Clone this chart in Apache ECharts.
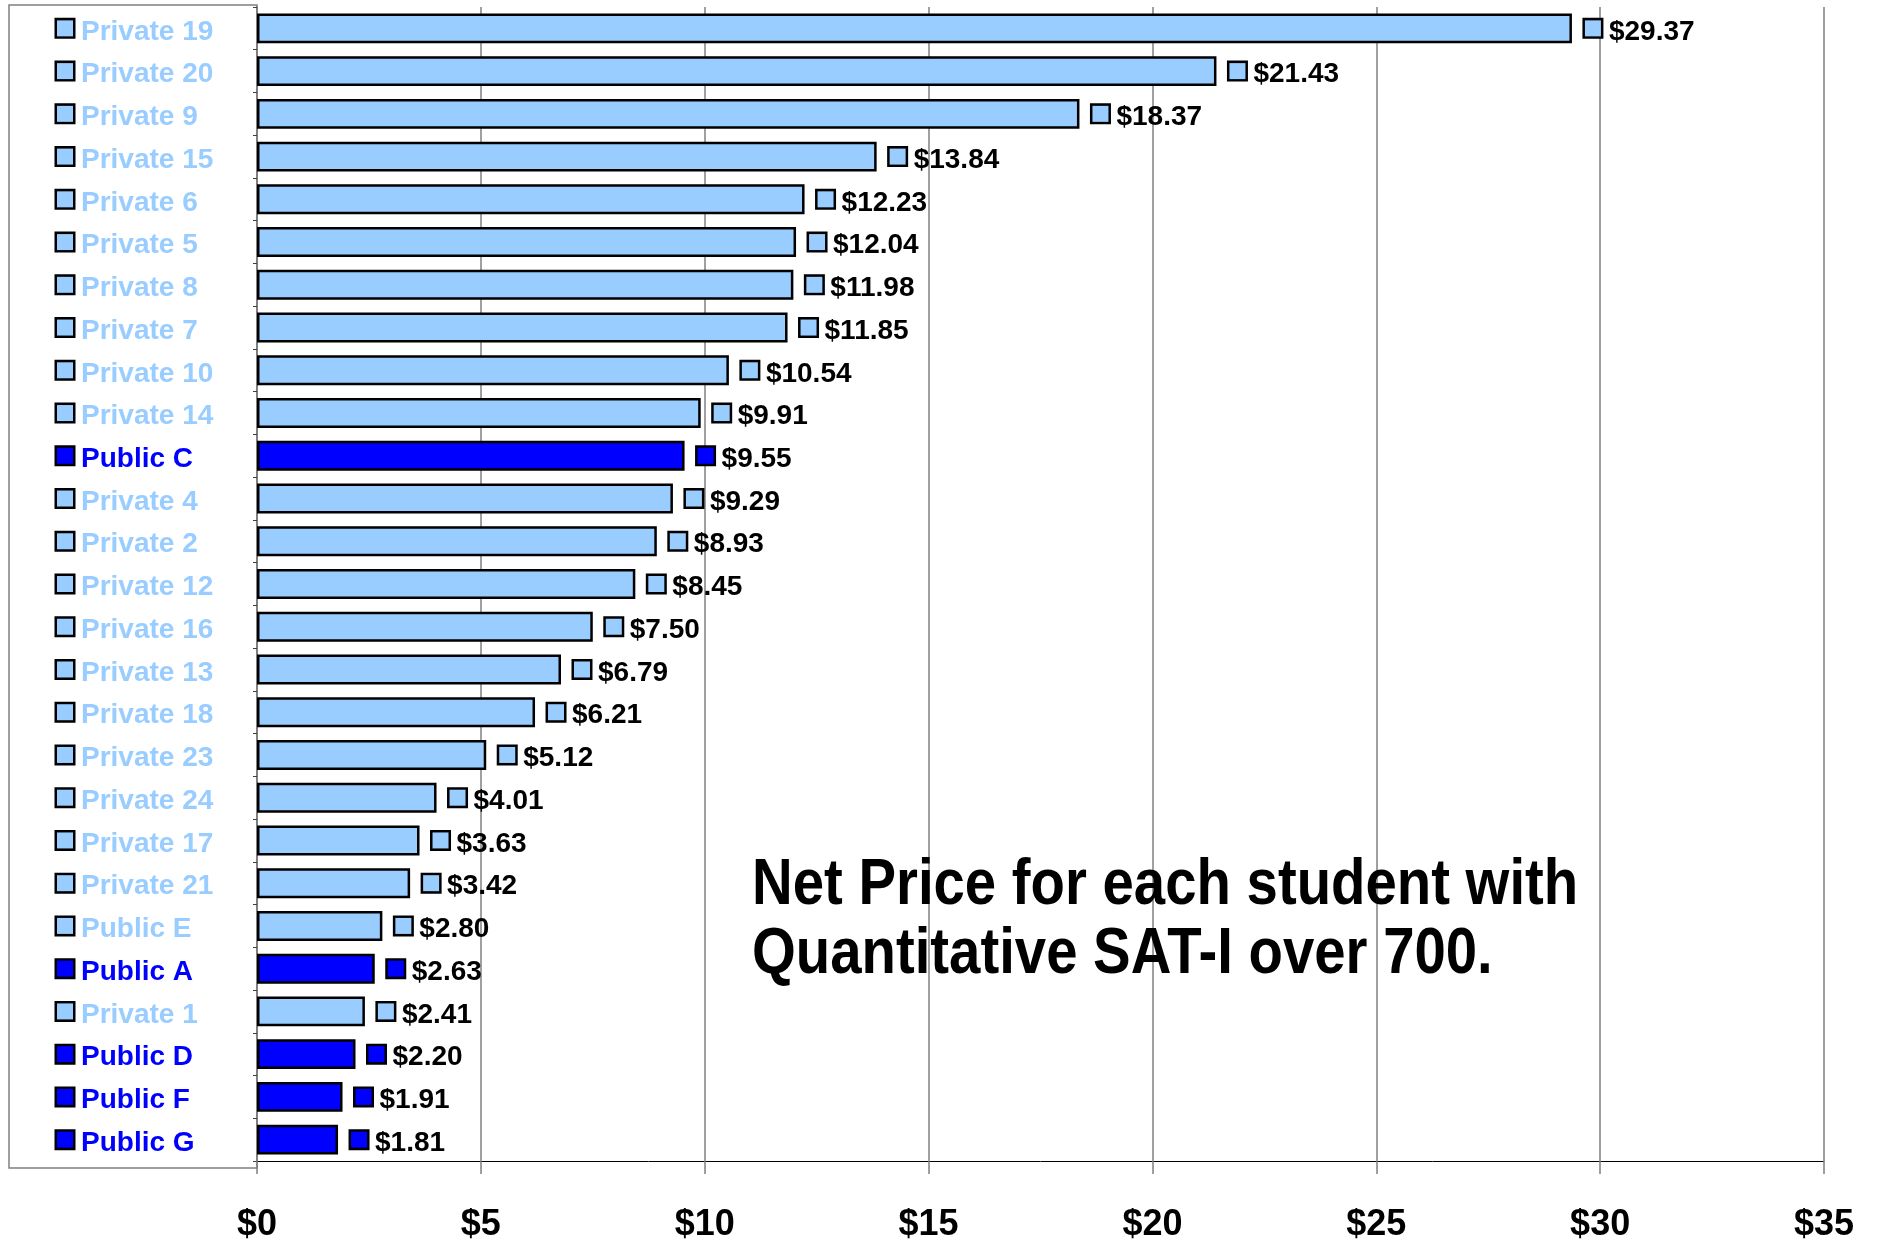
<!DOCTYPE html>
<html>
<head>
<meta charset="utf-8">
<script src="https://cdn.jsdelivr.net/npm/echarts@6/dist/echarts.min.js"></script>
<style>
  html, body { margin: 0; padding: 0; background: #fff; }
  #chart { width: 1881px; height: 1243px; }
</style>
</head>
<body>
<div id="chart"></div>
<script>
// schools, top to bottom
const schools = [
  'Private 19', 'Private 20', 'Private 9', 'Private 15', 'Private 6', 'Private 5',
  'Private 8', 'Private 7', 'Private 10', 'Private 14', 'Public C', 'Private 4',
  'Private 2', 'Private 12', 'Private 16', 'Private 13', 'Private 18', 'Private 23',
  'Private 24', 'Private 17', 'Private 21', 'Public E', 'Public A', 'Private 1',
  'Public D', 'Public F', 'Public G'
]
const netPrice = [
  29.37, 21.43, 18.37, 13.84, 12.23, 12.04, 11.98, 11.85, 10.54, 9.91, 9.55, 9.29,
  8.93, 8.45, 7.50, 6.79, 6.21, 5.12, 4.01, 3.63, 3.42, 2.80, 2.63, 2.41,
  2.20, 1.91, 1.81
]
// 'd' = dark blue bar, 'l' = light blue bar
const shade = [
  'l', 'l', 'l', 'l', 'l', 'l', 'l', 'l', 'l', 'l', 'd', 'l',
  'l', 'l', 'l', 'l', 'l', 'l', 'l', 'l', 'l', 'l', 'd', 'l',
  'd', 'd', 'd'
]
const xTicks = [0, 5, 10, 15, 20, 25, 30, 35]

const LIGHT = '#99CCFF'
const DARK = '#0000FF'
const FONT = "'Liberation Sans', Arial, sans-serif"

const chart = echarts.init(document.getElementById('chart'))

const marker = (color) => ({
  width: 16,
  height: 16,
  backgroundColor: color,
  borderColor: '#000',
  borderWidth: 2.5
})

const option = {
  animation: false,
  grid: { left: 257, right: 57, top: 7, bottom: 80 },
  xAxis: {
    type: 'value',
    min: xTicks[0],
    max: xTicks[xTicks.length - 1],
    interval: 5,
    axisLine: { show: true, lineStyle: { color: '#000', width: 1 } },
    axisTick: { show: true, length: 13, lineStyle: { color: '#808080', width: 1.5 } },
    axisLabel: {
      margin: 46,
      color: '#000',
      fontFamily: FONT,
      fontWeight: 'bold',
      fontSize: 36,
      formatter: (v) => '$' + v
    },
    splitLine: { show: true, lineStyle: { color: '#808080', width: 1.5 } }
  },
  yAxis: {
    type: 'category',
    inverse: true,
    data: schools,
    axisLine: { show: true, lineStyle: { color: '#808080', width: 2 } },
    axisTick: { show: true, length: 4, lineStyle: { color: '#404040' } },
    axisLabel: {
      interval: 0,
      align: 'left',
      margin: 200,
      fontFamily: FONT,
      fontWeight: 'bold',
      fontSize: 28,
      formatter: (v, i) => shade[i] === 'd'
        ? '{md|}{td|' + v + '}'
        : '{ml|}{tl|' + v + '}',
      rich: {
        ml: marker(LIGHT),
        md: marker(DARK),
        tl: { color: LIGHT, fontFamily: FONT, fontWeight: 'bold', fontSize: 28, padding: [7, 0, 0, 8] },
        td: { color: DARK, fontFamily: FONT, fontWeight: 'bold', fontSize: 28, padding: [7, 0, 0, 8] }
      }
    }
  },
  graphic: [
    {
      type: 'rect',
      shape: { x: 9, y: 5, width: 248, height: 1163 },
      style: { fill: 'none', stroke: '#808080', lineWidth: 1.5 },
      z: 0
    },
    {
      type: 'text',
      x: 752,
      y: 852,
      scaleX: 0.88,
      style: {
        text: 'Net Price for each student with\nQuantitative SAT-I over 700.',
        font: 'bold 64px ' + FONT,
        lineHeight: 69,
        fill: '#000',
        align: 'left',
        verticalAlign: 'top'
      },
      z: 10
    }
  ],
  series: [{
    type: 'bar',
    barCategoryGap: '30%',
    data: netPrice.map((v, i) => ({
      value: v,
      itemStyle: { color: shade[i] === 'd' ? DARK : LIGHT }
    })),
    itemStyle: { borderColor: '#000', borderWidth: 2.5 },
    label: {
      show: true,
      position: 'right',
      distance: 13,
      formatter: (p) => (shade[p.dataIndex] === 'd' ? '{md|}' : '{ml|}') +
        '{v|$' + p.value.toFixed(2) + '}',
      rich: {
        ml: marker(LIGHT),
        md: marker(DARK),
        v: { color: '#000', fontFamily: FONT, fontWeight: 'bold', fontSize: 28, padding: [7, 0, 0, 8] }
      }
    }
  }]
}

chart.setOption(option)
</script>
</body>
</html>
